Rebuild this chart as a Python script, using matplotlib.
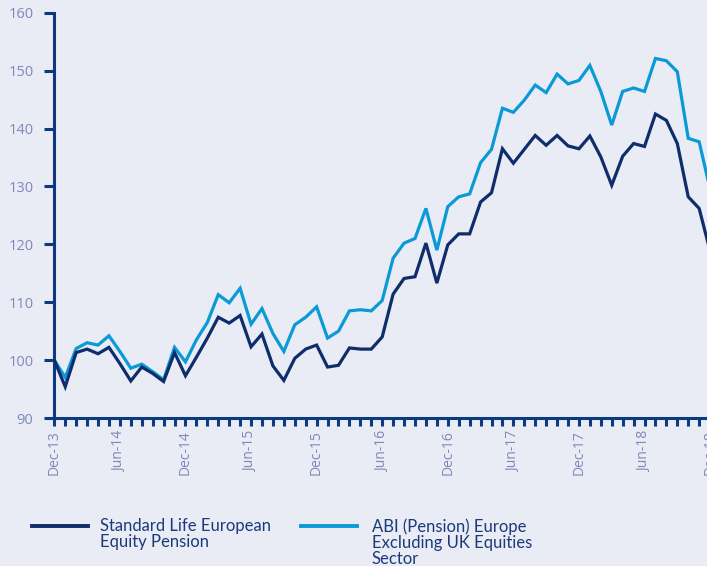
import matplotlib
matplotlib.use("Agg")
import matplotlib.pyplot as plt
from matplotlib.lines import Line2D
import numpy as np

# Monthly values Dec-13 .. Dec-18
standard_life = [100.0, 95.4, 101.3, 101.9, 101.1, 102.2, 99.4, 96.4, 98.8, 97.7,
                 96.3, 101.3, 97.3, 100.5, 103.8, 107.4, 106.4, 107.7, 102.3, 104.5,
                 99.0, 96.5, 100.3, 101.9, 102.6, 98.8, 99.1, 102.1, 101.9, 101.9,
                 104.0, 111.4, 114.1, 114.4, 120.2, 113.3, 119.9, 121.8, 121.8, 127.3,
                 128.9, 136.5, 134.0, 136.4, 138.8, 137.1, 138.8, 137.0, 136.5, 138.7,
                 135.1, 130.2, 135.2, 137.4, 136.9, 142.5, 141.4, 137.4, 128.2, 126.2,
                 118.8]
abi_sector = [100.0, 97.0, 102.0, 103.0, 102.6, 104.2, 101.5, 98.6, 99.3, 98.0,
              96.6, 102.2, 99.7, 103.5, 106.5, 111.3, 109.9, 112.4, 106.2, 108.9,
              104.6, 101.5, 106.1, 107.4, 109.2, 103.8, 105.0, 108.5, 108.7, 108.5,
              110.3, 117.6, 120.2, 121.0, 126.2, 119.0, 126.5, 128.2, 128.7, 134.1,
              136.4, 143.5, 142.8, 144.9, 147.5, 146.2, 149.4, 147.7, 148.3, 150.9,
              146.4, 140.6, 146.4, 147.0, 146.4, 152.1, 151.7, 149.8, 138.3, 137.7,
              129.5]
tick_labels = ["Dec-13", "Jun-14", "Dec-14", "Jun-15", "Dec-15", "Jun-16",
               "Dec-16", "Jun-17", "Dec-17", "Jun-18", "Dec-18"]
series_names = ["Standard Life European\nEquity Pension",
                "ABI (Pension) Europe\nExcluding UK Equities\nSector"]
y_ticks = [90, 100, 110, 120, 130, 140, 150, 160]

BG = "#e9ecf4"
AXIS = "#0b3a80"
DARK = "#0e2d6a"
LIGHT = "#0a9ad6"
TICKTXT = "#8088ba"
LEGTXT = "#1c3a7a"

W, H = 707, 566
fig = plt.figure(figsize=(W / 100, H / 100), dpi=100, facecolor=BG)
left, right, top, bottom = 54.3, 710.1, 12.7, 418.0
ax = fig.add_axes([left / W, 1 - bottom / H, (right - left) / W, (bottom - top) / H])
ax.set_facecolor(BG)

x = np.arange(len(standard_life))
ax.plot(x, abi_sector, color=LIGHT, lw=2.3, solid_joinstyle="miter", clip_on=False, zorder=3)
ax.plot(x, standard_life, color=DARK, lw=2.3, solid_joinstyle="miter", clip_on=False, zorder=4)

ax.set_xlim(0, len(x) - 1)
ax.set_ylim(90, 160)
for s in ["top", "right"]:
    ax.spines[s].set_visible(False)
for s in ["left", "bottom"]:
    ax.spines[s].set_color(AXIS)
    ax.spines[s].set_linewidth(2.2)
    ax.spines[s].set_capstyle("projecting")

ax.set_yticks(y_ticks)
ax.set_yticklabels([str(v) for v in y_ticks])
ax.set_xticks(np.arange(0, len(x), 6))
ax.set_xticklabels(tick_labels, rotation=90)
ax.set_xticks(np.arange(0, len(x)), minor=True)
ax.tick_params(axis="y", direction="out", length=7, width=2.2, color=AXIS,
               labelcolor=TICKTXT, labelsize=10.5, pad=8)
ax.tick_params(axis="x", which="both", direction="out", length=6, width=2.2, color=AXIS,
               labelcolor=TICKTXT, labelsize=10, pad=3)
for lab in ax.get_xticklabels() + ax.get_yticklabels():
    lab.set_fontfamily(["Open Sans", "DejaVu Sans"])

# Legend
leg_y = 1 - 526 / H
for (x0, x1, tx), col, name in zip([(32, 88, 100), (301, 357, 372)], [DARK, LIGHT], series_names):
    fig.add_artist(Line2D([x0 / W, x1 / W], [leg_y, leg_y], color=col, lw=2.8,
                          transform=fig.transFigure))
    fig.text(tx / W, 1 - 518.5 / H, name, ha="left", va="top", color=LEGTXT,
             fontsize=12, linespacing=0.98,
             family=["Lato", "DejaVu Sans"])

fig.savefig("out.png", dpi=100, facecolor=BG)
